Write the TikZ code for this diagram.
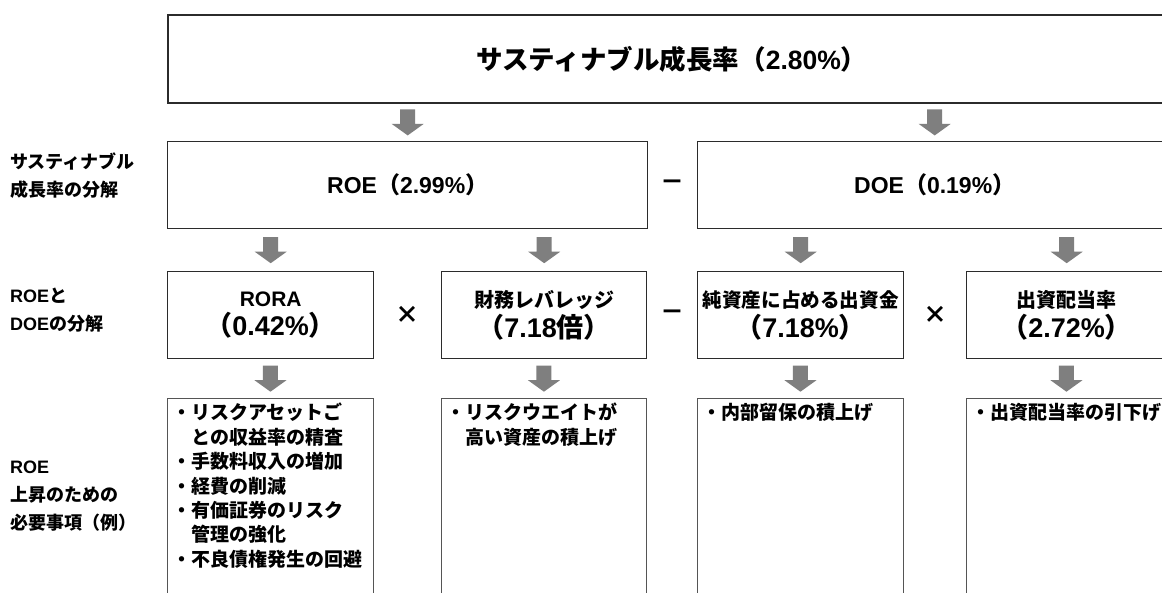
\documentclass[tikz,border=0pt]{standalone}
\usepackage{fontspec}
\setmainfont{Noto Sans CJK JP}
\newfontfamily\lat{Liberation Sans}
\usetikzlibrary{calc}
\definecolor{arrowgray}{HTML}{7F7F7F}
\definecolor{linedark}{HTML}{2B2B2B}
\definecolor{linegray}{HTML}{555555}
\begin{document}
\begin{tikzpicture}[x=1pt,y=-1pt,
  mainbox/.style={draw=linedark,line width=1.8pt,inner sep=0pt,anchor=north west,align=center,font=\bfseries},
  midbox/.style={draw=linedark,line width=1.4pt,inner sep=0pt,anchor=north west,align=center,font=\bfseries},
  listbox/.style={draw=linegray,line width=0.9pt,inner sep=0pt,anchor=north west},
  listtext/.style={anchor=north west,inner sep=0pt,align=left,font=\bfseries\fontsize{19}{24.4}\selectfont},
  rowlabel/.style={anchor=west,inner sep=0pt,align=left,font=\bfseries\fontsize{18}{28}\selectfont},
  opsym/.style={inner sep=0pt,font=\bfseries\fontsize{24}{24}\selectfont},
  downarr/.pic={\fill[arrowgray] (-7.5,-13) -- (7.5,-13) -- (7.5,1.5) -- (16,1.5) -- (0,13) -- (-16,1.5) -- (-7.5,1.5) -- cycle;}
]
\useasboundingbox (0,0) rectangle (1162,592);
\clip (0,0) rectangle (1162,592);
\fill[white] (0,0) rectangle (1162,592);

% top box
\node[mainbox,minimum width=1008pt,minimum height=88pt] (top) at (167,14)
  {\fontsize{26.5}{26.5}\selectfont サスティナブル成長率（{\lat\bfseries 2.80\%}）};

% row 2
\node[midbox,minimum width=480pt,minimum height=87pt] (roe) at (167,141)
  {\fontsize{23}{23}\selectfont {\lat\bfseries ROE}（{\lat\bfseries 2.99\%}）};
\node[midbox,minimum width=474pt,minimum height=87pt] (doe) at (697,141)
  {\fontsize{23}{23}\selectfont {\lat\bfseries DOE}（{\lat\bfseries 0.19\%}）};
\node[opsym] (m1) at ($(roe.east)!0.5!(doe.west)$) {－};

% row 3
\node[midbox,minimum width=206pt,minimum height=87pt] (rora) at (167,271)
  {{\fontsize{21}{20}\selectfont\lat\bfseries RORA}\\[4pt]{\fontsize{27}{27}\selectfont（{\lat\bfseries 0.42\%}）}};
\node[midbox,minimum width=205pt,minimum height=87pt] (lev) at (441,271)
  {{\fontsize{20}{20}\selectfont 財務レバレッジ}\\[4pt]{\fontsize{27}{27}\selectfont（{\lat\bfseries 7.18}倍）}};
\node[midbox,minimum width=206pt,minimum height=87pt] (cap) at (697,271)
  {{\fontsize{19.6}{20}\selectfont 純資産に占める出資金}\\[4pt]{\fontsize{27}{27}\selectfont（{\lat\bfseries 7.18\%}）}};
\node[midbox,minimum width=200pt,minimum height=87pt] (div) at (966,271)
  {{\fontsize{20}{20}\selectfont 出資配当率}\\[4pt]{\fontsize{27}{27}\selectfont（{\lat\bfseries 2.72\%}）}};
\node[opsym] (x1) at ($(rora.east)!0.5!(lev.west)$) {×};
\node[opsym] (m2) at ($(lev.east)!0.5!(cap.west)$) {－};
\node[opsym] (x2) at ($(cap.east)!0.5!(div.west)$) {×};

% row 4
\node[listbox,minimum width=206pt,minimum height=210pt] (l1) at (167,398) {};
\node[listbox,minimum width=205pt,minimum height=210pt] (l2) at (441,398) {};
\node[listbox,minimum width=206pt,minimum height=210pt] (l3) at (697,398) {};
\node[listbox,minimum width=200pt,minimum height=210pt] (l4) at (966,398) {};
\node[listtext] (t1) at ($(l1.north west)+(5,5)$)
  {・リスクアセットご\\\hspace*{1em}との収益率の精査\\・手数料収入の増加\\・経費の削減\\・有価証券のリスク\\\hspace*{1em}管理の強化\\・不良債権発生の回避};
\node[listtext] (t2) at ($(l2.north west)+(5,5)$)
  {・リスクウエイトが\\\hspace*{1em}高い資産の積上げ};
\node[listtext] (t3) at ($(l3.north west)+(5,5)$)
  {・内部留保の積上げ};
\node[listtext] (t4) at ($(l4.north west)+(5,5)$)
  {・出資配当率の引下げ};

% row labels
\node[rowlabel] (lab1) at (10,176) {サスティナブル\\成長率の分解};
\node[rowlabel] (lab2) at (10,310) {{\lat\bfseries ROE}と\\{\lat\bfseries DOE}の分解};
\node[rowlabel] (lab3) at (10,496) {{\lat\bfseries ROE}\\上昇のための\\必要事項（例）};

% arrows
\path ($(roe.north)!0.5!(roe.north |- top.south)$) pic {downarr};
\path ($(doe.north)!0.5!(doe.north |- top.south)$) pic {downarr};
\path ($(rora.north)!0.5!(rora.north |- roe.south)$) pic {downarr};
\path ($(lev.north)!0.5!(lev.north |- roe.south)$) pic {downarr};
\path ($(cap.north)!0.5!(cap.north |- doe.south)$) pic {downarr};
\path ($(div.north)!0.5!(div.north |- doe.south)$) pic {downarr};
\path ($(l1.north)!0.5!(l1.north |- rora.south)$) pic {downarr};
\path ($(l2.north)!0.5!(l2.north |- lev.south)$) pic {downarr};
\path ($(l3.north)!0.5!(l3.north |- cap.south)$) pic {downarr};
\path ($(l4.north)!0.5!(l4.north |- div.south)$) pic {downarr};
\end{tikzpicture}
\end{document}
